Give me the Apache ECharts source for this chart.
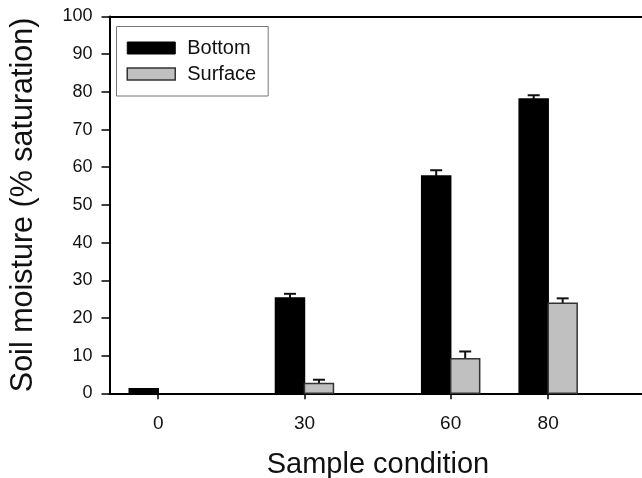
<!DOCTYPE html>
<html><head><meta charset="utf-8">
<script src="https://cdn.jsdelivr.net/npm/echarts@6/dist/echarts.min.js"></script>
<style>html,body{margin:0;padding:0;background:#fff}#c{width:642px;height:478px}</style>
</head><body><div id="c"></div>
<script>
const xValues = [0, 30, 60, 80];
const xTickLabels = [0, 30, 60, 80];
const bottomVals = [1.2, 25.3, 57.7, 78.1];
const bottomErr = [0, 1.1, 1.5, 1.0];
const surfaceVals = [0, 2.6, 9.2, 23.9];
const surfaceErr = [0, 1.0, 1.9, 1.3];

const FONT = 'Liberation Sans, Arial, sans-serif';
const BAR_W = 29;

function makeRender(side, fill, stroke) {
  return function (params, api) {
    const x = api.value(0), v = api.value(1), e = api.value(2);
    if (!(v > 0)) return null;
    const base = api.coord([x, 0]);
    const top = api.coord([x, v]);
    const errTop = api.coord([x, v + e]);
    const left = side < 0 ? base[0] - BAR_W : base[0];
    const cx = left + BAR_W / 2;
    const children = [];
    if (e > 0) {
      children.push({type:'line', shape:{x1:cx, y1:top[1], x2:cx, y2:errTop[1]}, style:{stroke:'#111', lineWidth:2}});
      children.push({type:'line', shape:{x1:cx-6, y1:errTop[1], x2:cx+6, y2:errTop[1]}, style:{stroke:'#111', lineWidth:2}});
    }
    children.push({type:'rect', shape:{x:left, y:top[1], width:BAR_W, height:base[1]-top[1]}, style:{fill:fill, stroke:stroke, lineWidth:1.5}});
    return {type:'group', children: children};
  };
}

const chart = echarts.init(document.getElementById('c'), null, {renderer:'canvas'});
chart.setOption({
  animation: false,
  backgroundColor: '#fff',
  textStyle: {fontFamily: FONT},
  grid: {left: 109.5, top: 16.5, height: 376.8, width: 584.9, outerBoundsMode: 'none', containLabel: false},
  legend: {
    orient: 'vertical', left: 116.5, top: 26.5,
    padding: [11.5, 12, 12, 10],
    borderColor: '#777', borderWidth: 1,
    itemWidth: 48, itemHeight: 12, itemGap: 6,
    textStyle: {fontSize: 20, color: '#111', fontFamily: FONT, padding: [0,0,0,7]},
    data: [
      {name:'Bottom', icon:'rect', itemStyle:{color:'#000', borderColor:'#000', borderWidth:1}},
      {name:'Surface', icon:'rect', itemStyle:{color:'#c0c0c0', borderColor:'#333', borderWidth:1.5}}
    ]
  },
  xAxis: [{
    type: 'value', min: -10, max: 110, position: 'bottom',
    name: 'Sample condition', nameLocation: 'middle', nameGap: 57,
    nameTextStyle: {fontSize: 29, color: '#111', fontFamily: FONT, padding: [0, 48, 0, 0]},
    axisLine: {show: true, onZero: false, lineStyle: {color: '#000', width: 2}},
    axisTick: {show: true, customValues: xTickLabels, length: 6, lineStyle: {color:'#000', width: 1.5}},
    axisLabel: {customValues: xTickLabels, fontSize: 19, color: '#111', margin: 21, fontFamily: FONT},
    splitLine: {show: false}
  }, {
    type: 'value', min: -10, max: 110, position: 'top',
    axisLine: {show: true, onZero: false, lineStyle: {color: '#000', width: 2}},
    axisTick: {show: false}, axisLabel: {show: false}, splitLine: {show: false}
  }],
  yAxis: {
    type: 'value', min: 0, max: 100, interval: 10,
    name: 'Soil moisture (% saturation)', nameLocation: 'middle', nameGap: 70,
    nameTextStyle: {fontSize: 30.5, color: '#111', fontFamily: FONT},
    axisLine: {show: true, onZero: false, lineStyle: {color: '#000', width: 2}},
    axisTick: {show: true, length: 8, lineStyle: {color:'#000', width: 1.5}},
    axisLabel: {fontSize: 18, color: '#111', margin: 17, fontFamily: FONT},
    splitLine: {show: false}
  },
  series: [{
    name: 'Bottom', type: 'custom', xAxisIndex: 0,
    itemStyle: {color: '#000'},
    renderItem: makeRender(-1, '#000', '#000'),
    encode: {x: 0, y: 1},
    data: xValues.map((x, i) => [x, bottomVals[i], bottomErr[i]])
  }, {
    name: 'Surface', type: 'custom', xAxisIndex: 0,
    itemStyle: {color: '#c0c0c0'},
    renderItem: makeRender(1, '#c0c0c0', '#333'),
    encode: {x: 0, y: 1},
    data: xValues.map((x, i) => [x, surfaceVals[i], surfaceErr[i]])
  }]
});
</script></body></html>
